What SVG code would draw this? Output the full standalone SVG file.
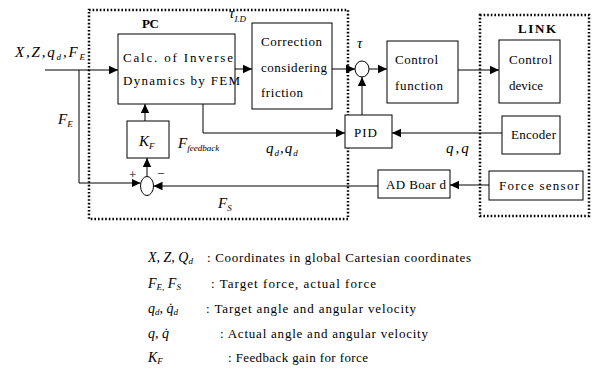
<svg xmlns="http://www.w3.org/2000/svg" width="592" height="374" viewBox="0 0 592 374">
  <style>
    text { font-family: "Liberation Serif", "DejaVu Serif", serif; fill: #000; }
    .lbl { font-size: 13px; }
    .ttl { font-size: 13px; font-weight: bold; }
    .var { font-size: 15px; font-style: italic; }
    .sub { font-size: 9px; font-style: italic; }
    .leg { font-size: 13px; }
    .legv { font-size: 14px; font-style: italic; }
    .box { fill: #fff; stroke: #000; stroke-width: 1; }
    .frame { fill: none; stroke: #000; stroke-width: 2.5; stroke-dasharray: 1.6 2; }
    .wire { fill: none; stroke: #000; stroke-width: 1; }
  </style>
  <defs>
    <marker id="arr" markerWidth="10" markerHeight="10" refX="9" refY="5" orient="auto" markerUnits="userSpaceOnUse">
      <path d="M0,0.8 L9,5 L0,9.2 Z" fill="#000"/>
    </marker>
  </defs>
  <rect width="592" height="374" fill="#fff"/>

  <!-- dotted frames -->
  <g id="pc-frame">
    <rect class="frame" x="89" y="10" width="259" height="209"/>
    <text class="ttl" x="142" y="28" textLength="17" lengthAdjust="spacing">PC</text>
  </g>
  <g id="link-frame">
    <rect class="frame" x="480" y="15" width="109" height="201"/>
    <text class="ttl" x="518" y="33" textLength="38" lengthAdjust="spacing">LINK</text>
  </g>

  <!-- connectors -->
  <g id="connectors">
    <path class="wire" d="M45,70 H118" marker-end="url(#arr)"/>
    <path class="wire" d="M79,70 V183 H140.5" marker-end="url(#arr)"/>
    <path class="wire" d="M235,69 H252" marker-end="url(#arr)"/>
    <path class="wire" d="M332,69 H355" marker-end="url(#arr)"/>
    <path class="wire" d="M369,69 H387" marker-end="url(#arr)"/>
    <path class="wire" d="M458,70 H499" marker-end="url(#arr)"/>
    <path class="wire" d="M362,115 V77" marker-end="url(#arr)"/>
    <path class="wire" d="M203,104 V133 H345" marker-end="url(#arr)"/>
    <path class="wire" d="M502,133 H392" marker-end="url(#arr)"/>
    <path class="wire" d="M489,185 H450" marker-end="url(#arr)"/>
    <path class="wire" d="M378,186 H153.5" marker-end="url(#arr)"/>
    <path class="wire" d="M147,176.5 V158" marker-end="url(#arr)"/>
    <path class="wire" d="M145,121 V104" marker-end="url(#arr)"/>
  </g>

  <!-- blocks -->
  <g id="calc">
    <rect class="box" x="118" y="34" width="117" height="70"/>
    <text class="lbl" x="123" y="62" textLength="110" lengthAdjust="spacing">Calc. of Inverse</text>
    <text class="lbl" x="123" y="85" textLength="117" lengthAdjust="spacing">Dynamics by FEM</text>
  </g>
  <g id="correction">
    <rect class="box" x="252" y="23" width="80" height="86"/>
    <text class="lbl" x="261" y="46" textLength="61" lengthAdjust="spacing">Correction</text>
    <text class="lbl" x="261" y="72" textLength="66" lengthAdjust="spacing">considering</text>
    <text class="lbl" x="261" y="97" textLength="42" lengthAdjust="spacing">friction</text>
  </g>
  <g id="sum-torque">
    <ellipse class="box" cx="362" cy="69" rx="7" ry="8"/>
  </g>
  <g id="control-function">
    <rect class="box" x="387" y="41" width="71" height="62"/>
    <text class="lbl" x="395" y="64" textLength="43" lengthAdjust="spacing">Control</text>
    <text class="lbl" x="395" y="90" textLength="48" lengthAdjust="spacing">function</text>
  </g>
  <g id="control-device">
    <rect class="box" x="499" y="40" width="61" height="63"/>
    <text class="lbl" x="509" y="64" textLength="43" lengthAdjust="spacing">Control</text>
    <text class="lbl" x="509" y="90" textLength="34" lengthAdjust="spacing">device</text>
  </g>
  <g id="pid">
    <rect class="box" x="345" y="115" width="47" height="33"/>
    <text class="lbl" x="354" y="137" textLength="23" lengthAdjust="spacing">PID</text>
  </g>
  <g id="encoder">
    <rect class="box" x="502" y="116" width="58" height="38"/>
    <text class="lbl" x="511" y="139" textLength="45" lengthAdjust="spacing">Encoder</text>
  </g>
  <g id="force-sensor">
    <rect class="box" x="489" y="171" width="94" height="29"/>
    <text class="lbl" x="499" y="190" textLength="80" lengthAdjust="spacing">Force sensor</text>
  </g>
  <g id="ad-board">
    <rect class="box" x="378" y="170" width="72" height="28"/>
    <text class="lbl" x="386" y="189" textLength="60" lengthAdjust="spacing">AD Boar d</text>
  </g>
  <g id="kf">
    <rect class="box" x="127" y="121" width="42" height="37"/>
    <text class="var" x="139" y="146">K<tspan class="sub" dy="3">F</tspan></text>
  </g>
  <g id="sum-force">
    <ellipse class="box" cx="147" cy="186" rx="6.5" ry="9.5"/>
    <text class="lbl" x="129" y="179">+</text>
    <text class="lbl" x="157" y="178">−</text>
  </g>

  <!-- signal labels -->
  <g id="signal-labels">
    <text class="var" x="15" y="57" textLength="70" lengthAdjust="spacing">X,Z,q<tspan class="sub" dy="3">d</tspan><tspan dy="-3">,F</tspan><tspan class="sub" dy="3">E</tspan></text>
    <text class="var" x="58" y="124">F<tspan class="sub" dy="3">E</tspan></text>
    <text class="var" x="178" y="148">F<tspan class="sub" dy="3">feedback</tspan></text>
    <text class="var" x="266" y="153" letter-spacing="1">q<tspan class="sub" dy="3">d</tspan><tspan dy="-3">,q</tspan><tspan class="sub" dy="3">d</tspan></text>
    <text class="var" x="446" y="153" letter-spacing="2">q,q</text>
    <text class="var" x="218" y="208">F<tspan class="sub" dy="3">S</tspan></text>
    <text class="var" x="357" y="48">τ</text>
    <text class="var" x="229" y="18">τ<tspan class="sub" dy="4">I.D</tspan></text>
  </g>

  <!-- legend -->
  <g id="legend">
    <text class="legv" x="148" y="262">X, Z, Q<tspan class="sub" dy="2">d</tspan></text>
    <text class="leg" x="207" y="262" textLength="264" lengthAdjust="spacing">: Coordinates in global Cartesian coordinates</text>
    <text class="legv" x="148" y="288">F<tspan class="sub" dy="2">E,</tspan><tspan dy="-2"> F</tspan><tspan class="sub" dy="2">S</tspan></text>
    <text class="leg" x="211" y="288" textLength="165" lengthAdjust="spacing">: Target force, actual force</text>
    <text class="legv" x="148" y="313">q<tspan class="sub" dy="2">d</tspan><tspan dy="-2">,  q̇</tspan><tspan class="sub" dy="2">d</tspan></text>
    <text class="leg" x="206" y="313" textLength="210" lengthAdjust="spacing">: Target angle and angular velocity</text>
    <text class="legv" x="148" y="338">q,  q̇</text>
    <text class="leg" x="220" y="338" textLength="208" lengthAdjust="spacing">: Actual angle and angular velocity</text>
    <text class="legv" x="148" y="362">K<tspan class="sub" dy="2">F</tspan></text>
    <text class="leg" x="228" y="362" textLength="140" lengthAdjust="spacing">: Feedback gain for force</text>
  </g>
</svg>
